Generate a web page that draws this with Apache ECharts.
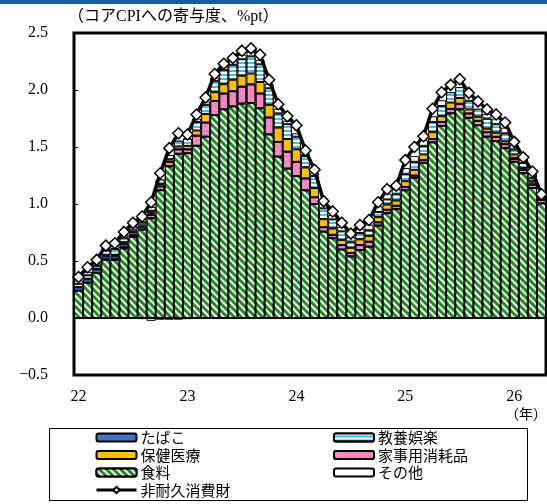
<!DOCTYPE html>
<html><head><meta charset="utf-8">
<script src="https://cdn.jsdelivr.net/npm/echarts@6/dist/echarts.min.js"></script>
<style>html,body{margin:0;padding:0;background:#fff}#c{width:547px;height:504px}</style>
</head><body><div id="c"></div>
<script>
// Months Jan 2022 .. Apr 2026
const categories = ['22/01','22/02','22/03','22/04','22/05','22/06','22/07','22/08','22/09','22/10','22/11','22/12',
 '23/01','23/02','23/03','23/04','23/05','23/06','23/07','23/08','23/09','23/10','23/11','23/12',
 '24/01','24/02','24/03','24/04','24/05','24/06','24/07','24/08','24/09','24/10','24/11','24/12',
 '25/01','25/02','25/03','25/04','25/05','25/06','25/07','25/08','25/09','25/10','25/11','25/12',
 '26/01','26/02','26/03','26/04'];
const yearLabels = ['22','23','24','25','26'];
const yTickLabels = ['−0.5','0.0','0.5','1.0','1.5','2.0','2.5'];

const food = [0.24,0.31,0.395,0.51,0.51,0.61,0.71,0.775,0.875,1.12,1.33,1.44,
 1.445,1.51,1.59,1.78,1.83,1.855,1.88,1.885,1.84,1.61,1.415,1.31,
 1.245,1.12,1.0,0.757,0.70,0.60,0.54,0.595,0.625,0.81,0.92,0.955,
 1.12,1.23,1.36,1.54,1.685,1.795,1.83,1.755,1.69,1.59,1.55,1.49,
 1.37,1.27,1.14,1.005];
const household = [0,0,0,0.01,0.01,0.015,0.02,0.025,0.03,0.035,0.04,0.04,
 0.035,0.09,0.125,0.125,0.14,0.135,0.15,0.165,0.13,0.15,0.13,0.15,
 0.125,0.105,0.06,0.04,0.03,0.04,0.03,0.045,0.045,0.03,0.03,0.03,
 0.03,0.02,0.025,0.03,0.035,0.04,0.05,0.04,0.04,0.04,0.04,0.035,
 0.025,0.03,0.03,0.03];
const tobacco = [0.03,0.03,0.03,0.025,0.025,0.025,0.025,0.02,0.015,0,0,0,
 0,0,0,0,0,0,0,0,0,0,0,0,
 0,0,0,0,0,0,0,0,0,0,0,0,
 0,0,0,0,0,0,0,0,0,0,0,0,
 0.01,0,0.01,0];
const medical = [0,0.005,0.005,0.01,0.01,0.015,0.02,0.02,0.02,0.02,0.02,0.025,
 0.03,0.045,0.075,0.075,0.08,0.10,0.095,0.095,0.10,0.11,0.125,0.11,
 0.11,0.095,0.08,0.07,0.055,0.045,0.045,0.05,0.05,0.045,0.045,0.045,
 0.05,0.05,0.05,0.06,0.05,0.055,0.05,0.035,0.035,0.03,0.035,0.025,
 0.03,0.015,0.02,0];
const culture = [0.03,0.03,0.03,0.04,0.05,0.04,0.03,0.03,0.035,0.04,0.04,0.05,
 0.065,0.075,0.08,0.10,0.125,0.13,0.145,0.15,0.155,0.145,0.125,0.13,
 0.11,0.10,0.105,0.095,0.08,0.075,0.055,0.055,0.05,0.045,0.045,0.06,
 0.065,0.07,0.075,0.09,0.09,0.09,0.095,0.075,0.07,0.09,0.075,0.07,
 0.045,0.045,0.03,0.02];
const others = [0.03,0.03,0.02,0.02,0.03,0.02,0.01,-0.01,-0.025,-0.015,-0.015,-0.015,
 -0.01,0.03,0.03,0.03,0.03,0.04,0.04,0.04,0.04,0.04,0.04,0.03,
 0.03,0.02,0.03,0.04,0.04,0.04,0.04,0.04,0.05,0.05,0.05,0.04,
 0.05,0.05,0.05,0.05,0.05,-0.008,-0.008,0.05,-0.008,0.04,0.05,0.05,
 0.04,0.04,0.04,0.03];
const nondurable = [0.36,0.445,0.51,0.635,0.655,0.755,0.835,0.89,1.015,1.27,1.49,1.62,
 1.61,1.785,1.935,2.14,2.23,2.28,2.345,2.365,2.31,2.09,1.875,1.77,
 1.69,1.47,1.30,1.025,0.935,0.835,0.74,0.815,0.86,1.015,1.13,1.16,
 1.385,1.50,1.595,1.835,1.98,2.045,2.095,1.975,1.90,1.83,1.785,1.715,
 1.545,1.41,1.285,1.085];

const serif = '"Liberation Serif","Noto Sans CJK JP",serif';
const jp = '"Noto Sans CJK JP",sans-serif';

function bar(name, data, color, decal) {
  const s = { name, type:'bar', stack:'t', data, barCategoryGap:'0%',
    itemStyle:{ color, borderColor:'#000', borderWidth:1 } };
  if (decal) s.itemStyle.decal = decal;
  return s;
}

const legendText = {fontFamily:jp, fontSize:15, color:'#000', lineHeight:15, padding:[0,0,0,-1]};
const chart = echarts.init(document.getElementById('c'), null, {renderer:'canvas'});
chart.setOption({
  animation:false,
  aria:{enabled:false},
  grid:{left:74, right:1, top:33, bottom:129, show:true, borderColor:'#000', borderWidth:3, backgroundColor:'transparent'},
  xAxis:{ type:'category', data:categories, boundaryGap:true,
    axisLine:{show:false}, axisTick:{show:false}, splitLine:{show:false},
    axisLabel:{ interval:(i)=>i%12===0, formatter:(v,i)=>yearLabels[Math.round(i/12)], color:'#000', fontFamily:serif, fontSize:16, margin:14 } },
  yAxis:{ type:'value', min:-0.5, max:2.5, interval:0.5,
    axisLine:{show:false}, splitLine:{show:false},
    axisTick:{show:true, inside:true, length:4, lineStyle:{color:'#000'}},
    axisLabel:{ formatter:(v)=>yTickLabels[Math.round((v+0.5)/0.5)], color:'#000', fontFamily:serif, fontSize:16, margin:26 } },
  legend:[
    { orient:'vertical', left:95, top:430, padding:0, height:80, itemWidth:40, itemHeight:8, itemGap:2.5,
      data:['たばこ','保健医療','食料',{name:'非耐久消費財', lineStyle:{width:3, color:'#000'}}], textStyle:legendText },
    { orient:'vertical', left:333, top:430, padding:0, height:80, itemWidth:40, itemHeight:8, itemGap:2.5,
      data:['教養娯楽','家事用消耗品','その他'], textStyle:legendText }
  ],
  graphic:[
    {type:'rect', shape:{x:0,y:0,width:547,height:4}, style:{fill:'#145ea8'}},
    {type:'text', left:68, top:9, style:{text:'（コアCPIへの寄与度、%pt）', font:'16px '+serif, fill:'#000'}},
    {type:'text', right:0, top:407, style:{text:'（年）', font:'14px '+jp, fill:'#000'}},
    {type:'rect', shape:{x:49.5,y:428.5,width:478,height:72}, style:{fill:'none', stroke:'#000', lineWidth:1}}
  ],
  series:[
    bar('食料', food, '#1f8f1f', {symbol:'rect', symbolSize:1, dashArrayX:[1,0], dashArrayY:[1.5,2.5], rotation:Math.PI/4, color:'#ffffff'}),
    bar('家事用消耗品', household, '#f58bc6', {symbol:'circle', symbolSize:0.5, dashArrayX:[[2,3]], dashArrayY:[2,3], color:'#b8407a'}),
    bar('たばこ', tobacco, '#4472c4'),
    bar('保健医療', medical, '#ffc000'),
    bar('教養娯楽', culture, '#3cbff0', {symbol:'rect', symbolSize:1, dashArrayX:[1,0], dashArrayY:[1.5,1.5], rotation:0, color:'#ffffff'}),
    bar('その他', others, '#ffffff'),
    { name:'非耐久消費財', type:'line', data:nondurable, z:10, showAllSymbol:true,
      lineStyle:{color:'#000', width:3.5}, symbol:'diamond', symbolSize:11,
      itemStyle:{color:'#fff', borderColor:'#000', borderWidth:1.5},
      markLine:{silent:true, symbol:'none', label:{show:false}, lineStyle:{color:'#000', width:1, type:'solid'}, data:[{yAxis:0}]} }
  ]
});
</script></body></html>
